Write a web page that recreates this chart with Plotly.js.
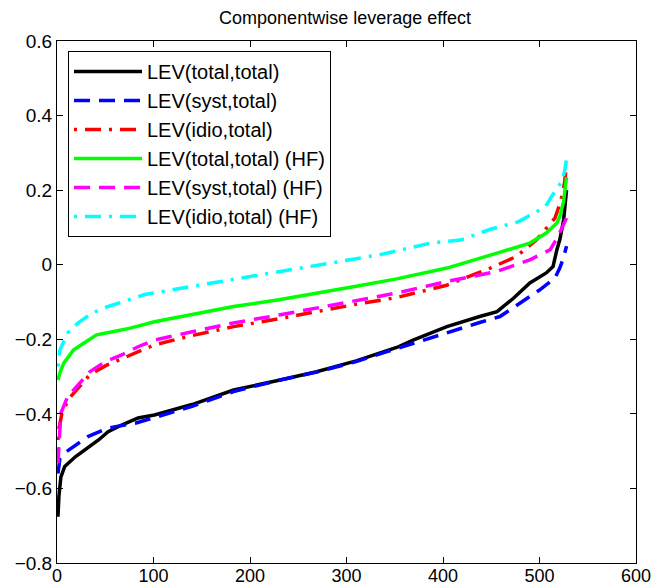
<!DOCTYPE html>
<html>
<head>
<meta charset="utf-8">
<script src="https://cdn.plot.ly/plotly-3.0.1.min.js"></script>
<style>html,body{margin:0;padding:0;background:#fff;}#chart{width:656px;height:588px;}</style>
</head>
<body>
<div id="chart"></div>
<script>
// Data
const seriesNames = ["LEV(total,total)", "LEV(syst,total)", "LEV(idio,total)",
  "LEV(total,total) (HF)", "LEV(syst,total) (HF)", "LEV(idio,total) (HF)"];

const xTotal = [1,2,4,8,19,29,43,53,67,84,101,140,183,230,269,310,352,369,404,438,456,473,490,507,514,518,521,525,528];
const yTotal = [-0.676,-0.62,-0.57,-0.541,-0.515,-0.497,-0.47,-0.448,-0.43,-0.411,-0.403,-0.375,-0.336,-0.31,-0.287,-0.258,-0.222,-0.202,-0.166,-0.139,-0.126,-0.09,-0.049,-0.022,-0.005,0.04,0.067,0.12,0.2];

const xSyst = [1,3,10,32,53,81,101,140,183,230,269,310,342,390,438,459,480,500,516,521,525,528];
const ySyst = [-0.56,-0.52,-0.501,-0.461,-0.438,-0.425,-0.41,-0.38,-0.34,-0.31,-0.288,-0.26,-0.233,-0.193,-0.155,-0.139,-0.103,-0.068,-0.036,-0.009,0.02,0.05];

const xIdio = [1,2,5,12,24,34,51,67,84,101,140,183,230,269,310,352,404,449,476,497,516,522,526,528];
const yIdio = [-0.47,-0.44,-0.4,-0.36,-0.325,-0.295,-0.27,-0.252,-0.232,-0.215,-0.19,-0.166,-0.145,-0.126,-0.106,-0.088,-0.055,-0.009,0.022,0.067,0.125,0.17,0.22,0.27];

const xTotalHF = [1,3,7,17,28,41,59,76,101,140,183,230,269,310,352,404,456,490,507,518,521,525,528];
const yTotalHF = [-0.309,-0.29,-0.264,-0.229,-0.21,-0.188,-0.179,-0.17,-0.153,-0.133,-0.112,-0.094,-0.077,-0.058,-0.038,-0.009,0.031,0.058,0.085,0.112,0.129,0.17,0.235];

const xSystHF = [1,2,4,11,24,34,50,67,84,101,140,183,230,269,310,352,404,456,490,511,519,524,528];
const ySystHF = [-0.532,-0.47,-0.398,-0.354,-0.318,-0.287,-0.26,-0.242,-0.22,-0.202,-0.18,-0.156,-0.135,-0.116,-0.096,-0.076,-0.045,-0.018,0.013,0.04,0.075,0.1,0.125];

const xIdioHF = [1,3,11,22,36,53,70,91,140,200,269,335,387,418,449,478,506,519,523,526,529];
const yIdioHF = [-0.273,-0.229,-0.183,-0.156,-0.13,-0.112,-0.098,-0.08,-0.058,-0.032,0.0,0.027,0.058,0.066,0.095,0.115,0.155,0.21,0.22,0.25,0.30];

const xTickVals = [0,100,200,300,400,500,600];
const yTickVals = [-0.8,-0.6,-0.4,-0.2,0,0.2,0.4,0.6];
const yTickText = ["\u22120.8","\u22120.6","\u22120.4","\u22120.2","0","0.2","0.4","0.6"];

const xs = [xTotal, xSyst, xIdio, xTotalHF, xSystHF, xIdioHF];
const ys = [yTotal, ySyst, yIdio, yTotalHF, ySystHF, yIdioHF];
const colors = ["#000000", "#0000ff", "#ff0000", "#00ff00", "#ff00ff", "#00ffff"];
const dashes = ["solid", "16px,9px", "3px,8px,16px,8px", "solid", "16px,9px", "3px,8px,16px,8px"];

const traces = seriesNames.map((n, i) => ({
  x: xs[i], y: ys[i], name: n, type: "scatter", mode: "lines",
  line: {color: colors[i], width: 3.5, dash: dashes[i], shape: "linear"}
}));

const font = {family: "'Liberation Sans', Arial, Helvetica, sans-serif", color: "#000"};

const layout = {
  width: 656, height: 588,
  margin: {l: 57, r: 20, t: 41, b: 25, pad: 0},
  paper_bgcolor: "#fff", plot_bgcolor: "#fff",
  font: Object.assign({size: 19}, font),
  title: {text: "Componentwise leverage effect", x: 345/656, xanchor: "center",
    y: 1 - 18/588, yanchor: "middle", yref: "container",
    font: Object.assign({size: 18}, font)},
  xaxis: {range: [0, 600], tickvals: xTickVals, ticktext: xTickVals.map(String),
    ticks: "inside", ticklen: 6, tickwidth: 1, tickcolor: "#000",
    showline: true, linecolor: "#000", linewidth: 1, mirror: "ticks",
    showgrid: false, zeroline: false, tickfont: Object.assign({size: 18}, font),
    ticklabelstandoff: -4},
  yaxis: {range: [-0.8, 0.6], tickvals: yTickVals, ticktext: yTickText,
    ticks: "inside", ticklen: 6, tickwidth: 1, tickcolor: "#000",
    showline: true, linecolor: "#000", linewidth: 1, mirror: "ticks",
    showgrid: false, zeroline: false, tickfont: Object.assign({size: 19}, font)},
  showlegend: true,
  legend: {x: 0.019, y: 0.981, xanchor: "left", yanchor: "top",
    bgcolor: "#fff", bordercolor: "#000", borderwidth: 1,
    font: Object.assign({size: 20}, font), itemwidth: 68, tracegroupgap: 0}
};

Plotly.newPlot("chart", traces, layout, {displayModeBar: false, staticPlot: true});
</script>
</body>
</html>
